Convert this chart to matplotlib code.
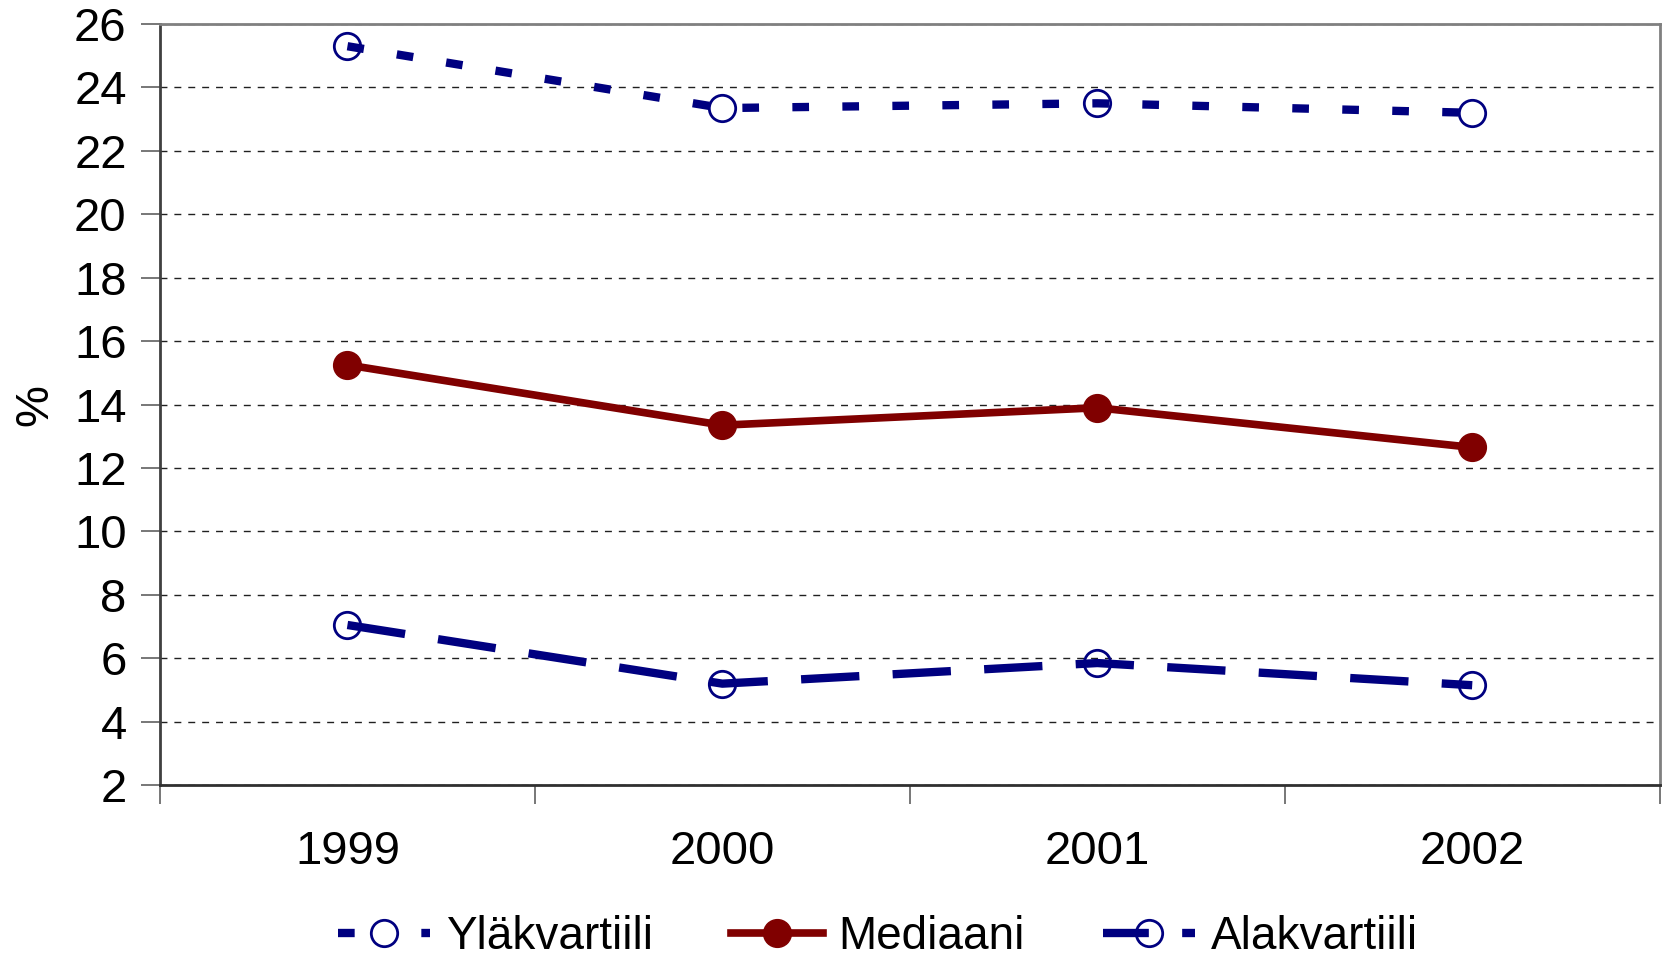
import matplotlib.pyplot as plt
from matplotlib.lines import Line2D

years = ["1999", "2000", "2001", "2002"]
ylakvartiili = [25.3, 23.35, 23.5, 23.2]
mediaani = [15.25, 13.35, 13.9, 12.65]
alakvartiili = [7.05, 5.2, 5.85, 5.15]

plt.rcParams['font.family'] = ['Liberation Sans', 'DejaVu Sans']

fig = plt.figure(figsize=(16.63, 9.61), dpi=100)
ax = fig.add_axes([0.0962, 0.183, 0.9018, 0.792])

x = list(range(len(years)))
navy = "#000080"
red = "#800000"
open_marker = dict(marker='o', ms=19, mfc='none', mec=navy, mew=2)

ax.plot(x, ylakvartiili, color=navy, lw=6, dashes=(2, 4), dash_capstyle='butt', **open_marker)
ax.plot(x, mediaani, color=red, lw=5.5, marker='o', ms=20, mfc=red, mec=red)
ax.plot(x, alakvartiili, color=navy, lw=6, dashes=(7, 4), dash_capstyle='butt', **open_marker)

# legend samples: dash patterns chosen so the short handles look like the original
h1 = Line2D([], [], color=navy, lw=6, dashes=(2, 8), dash_capstyle='butt', **open_marker)
h2 = Line2D([], [], color=red, lw=5.5, marker='o', ms=20, mfc=red, mec=red)
h3 = Line2D([], [], color=navy, lw=6, dashes=(5.5, 4), dash_capstyle='butt', **open_marker)

ax.set_xlim(-0.5, 3.5)
ax.set_ylim(2, 26)
ax.set_yticks(range(2, 27, 2))
ax.tick_params(axis='y', labelsize=34, length=14, width=1.2, color='#606060', pad=10)

# tick marks at category boundaries, labels at category centres
ax.set_xticks([-0.5, 0.5, 1.5, 2.5, 3.5])
ax.set_xticklabels([])
ax.tick_params(axis='x', which='major', length=14, width=1.2, color='#606060')
ax.set_xticks(x, minor=True)
ax.set_xticklabels(years, minor=True)
ax.tick_params(axis='x', which='minor', length=0, labelsize=34, pad=32)

ax.yaxis.grid(True, color='#202020', lw=1, dashes=(5, 5))
ax.set_axisbelow(True)

ax.spines['left'].set_color('#404040')
ax.spines['left'].set_linewidth(2)
ax.spines['bottom'].set_color('#303030')
ax.spines['bottom'].set_linewidth(2)
ax.spines['top'].set_color('#808080')
ax.spines['top'].set_linewidth(2)
ax.spines['right'].set_color('#808080')
ax.spines['right'].set_linewidth(2)

ax.set_ylabel("%", fontsize=34, labelpad=12)

fig.legend([h1, h2, h3], ["Yläkvartiili", "Mediaani", "Alakvartiili"],
           loc='center', bbox_to_anchor=(0.528, 0.025), ncol=3,
           frameon=False, fontsize=33, handlelength=2.0, handletextpad=0.35,
           columnspacing=1.7, borderaxespad=0)

fig.savefig("out.png", dpi=100)
